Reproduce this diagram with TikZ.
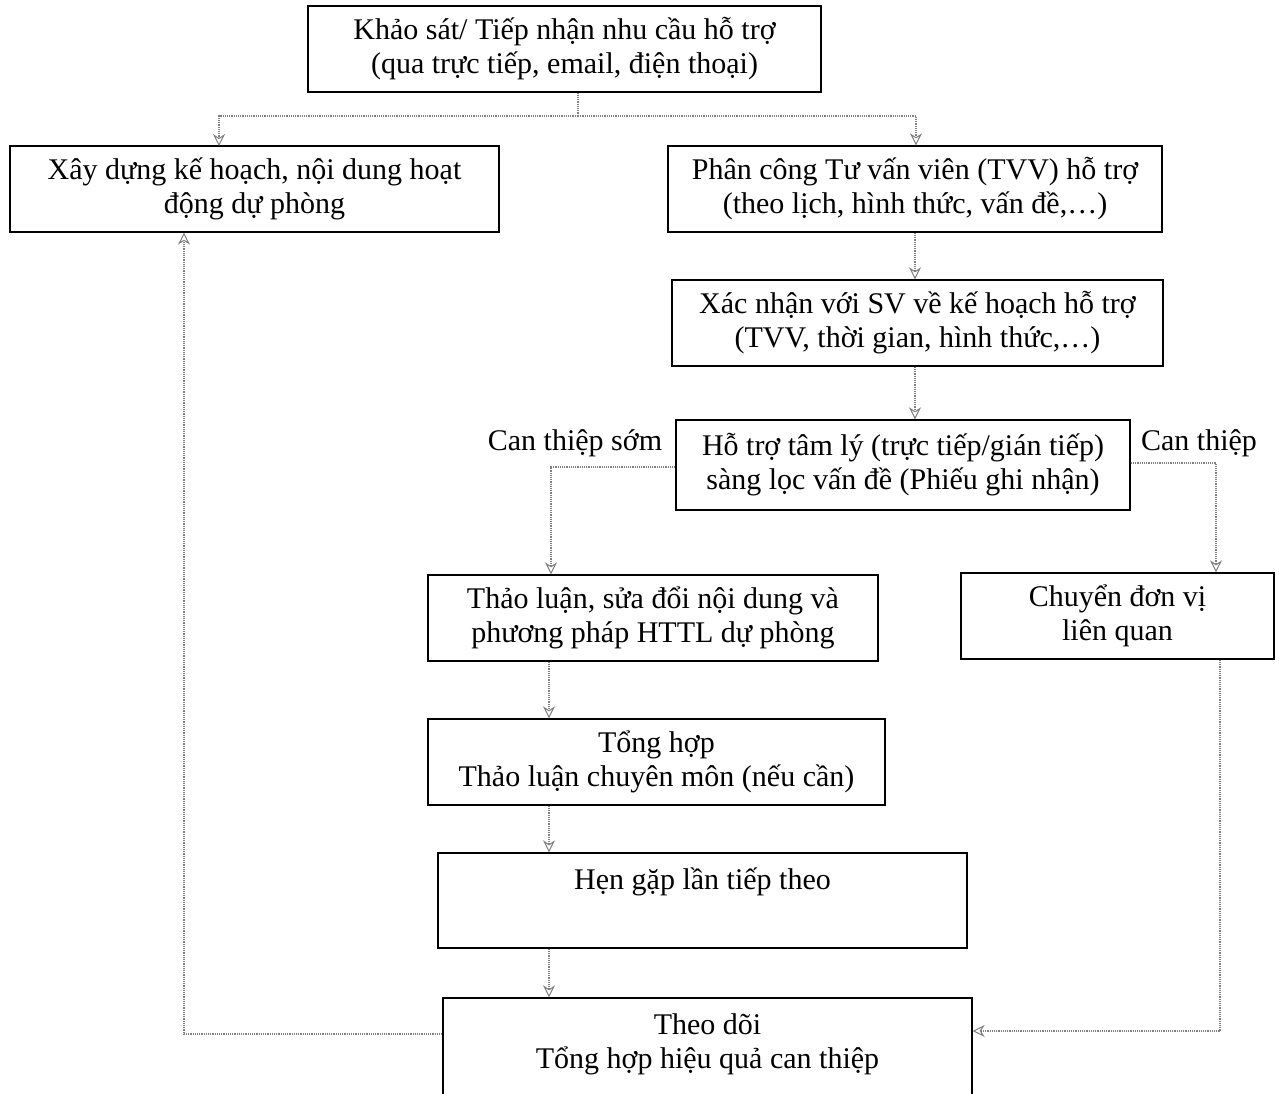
\documentclass[tikz,border=0pt]{standalone}
\usepackage{fontspec}
\setmainfont{Liberation Serif}
\usetikzlibrary{arrows.meta}
\begin{document}
\begin{tikzpicture}[x=1pt,y=-1pt,
  box/.style={draw=black, line width=1.4pt, inner sep=0pt, align=center,
    font=\fontsize{30}{34}\selectfont},
  txt/.style={inner sep=0pt, align=center, font=\fontsize{30}{34}\selectfont},
  conn/.style={draw=black!50, line width=1.2pt, densely dotted,
    -{Stealth[open, length=12pt, width=12pt, line width=1pt, sep=0pt]}},
  plain/.style={draw=black!50, line width=1.2pt, densely dotted}]
\path[use as bounding box] (0,0) rectangle (1279,1094);
\clip (0,0) rectangle (1279,1094);
\fill[white] (0,0) rectangle (1279,1094);

\node[box, minimum width=513pt, minimum height=86pt] (b1) at (564.5,49)
  {Khảo sát/ Tiếp nhận nhu cầu hỗ trợ\\(qua trực tiếp, email, điện thoại)};
\node[box, minimum width=489pt, minimum height=86pt] (b2) at (254.5,189)
  {Xây dựng kế hoạch, nội dung hoạt\\động dự phòng};
\node[box, minimum width=494pt, minimum height=86pt] (b3) at (915,189)
  {Phân công Tư vấn viên (TVV) hỗ trợ\\(theo lịch, hình thức, vấn đề,\ldots)};
\node[box, minimum width=491pt, minimum height=86pt] (b4) at (917.5,323)
  {Xác nhận với SV về kế hoạch hỗ trợ\\(TVV, thời gian, hình thức,\ldots)};
\node[box, minimum width=454pt, minimum height=90pt] (b5) at (903,465)
  {Hỗ trợ tâm lý (trực tiếp/gián tiếp)\\sàng lọc vấn đề (Phiếu ghi nhận)};
\node[box, minimum width=450pt, minimum height=86pt] (b6) at (653,618)
  {Thảo luận, sửa đổi nội dung và\\phương pháp HTTL dự phòng};
\node[box, minimum width=313pt, minimum height=86pt] (b7) at (1117.5,616)
  {Chuyển đơn vị\\liên quan};
\node[box, minimum width=457pt, minimum height=86pt] (b8) at (656.5,762)
  {Tổng hợp\\Thảo luận chuyên môn (nếu cần)};
\node[box, minimum width=529pt, minimum height=95pt] (b9) at (702.5,900.5)
  {Hẹn gặp lần tiếp theo\\\strut};
\node[box, minimum width=529pt, minimum height=132pt] (b10) at (707.5,1064) {};
\node[txt] (t10) at (707.5,1044) {Theo dõi\\Tổng hợp hiệu quả can thiệp};

\node[txt] (l1) at (575,443) {Can thiệp sớm};
\node[txt] (l2) at (1199,443) {Can thiệp};

% connectors
\coordinate (j1) at (578,116);
\draw[plain] (b1.south -| j1) -- (j1);
\draw[conn] (j1) -| (219,146);
\draw[conn] (j1) -| (b3.north -| 916,0);
\draw[conn] (b3.south) -- (b3.south |- b4.north);
\draw[conn] (b4.south -| 915,0) -- (b5.north -| 915,0);
\draw[conn] (b5.west |- 0,467) -| (b6.north -| 551,0);
\draw[conn] (b5.east |- 0,463) -| (b7.north -| 1216,0);
\draw[conn] (b6.south -| 549,0) -- (b8.north -| 549,0);
\draw[conn] (b8.south -| 549,0) -- (b9.north -| 549,0);
\draw[conn] (b9.south -| 549,0) -- (b10.north -| 549,0);
\draw[conn] (b10.west |- 0,1034) -| (b2.south -| 184,0);
\draw[conn] (b7.south -| 1220,0) |- (b10.east |- 0,1031);
\end{tikzpicture}
\end{document}
